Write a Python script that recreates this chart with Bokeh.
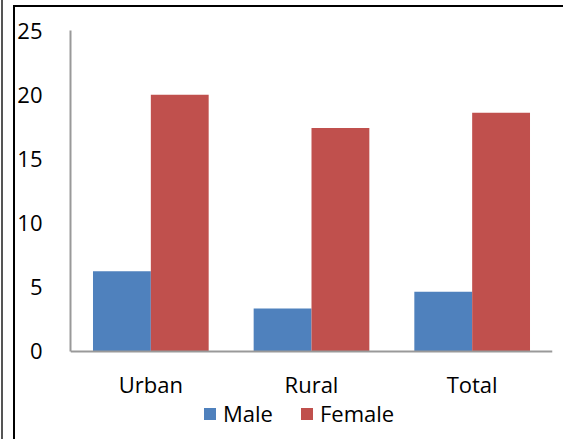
from bokeh.plotting import figure
from bokeh.models import ColumnDataSource, Legend, LegendItem, Range1d, FactorRange, FixedTicker
from bokeh.transform import dodge
from bokeh.embed import file_html
from bokeh.resources import INLINE

categories = ["Urban", "Rural", "Total"]
male = [6.25, 3.35, 4.65]
female = [20.0, 17.4, 18.6]
y_ticks = [0, 5, 10, 15, 20, 25]

BLUE = "#4F81BD"
RED = "#C0504D"
FONT = "Open Sans"

src = ColumnDataSource(data=dict(cat=categories, male=male, female=female))

# frame extends below zero to leave room for the category labels and legend
p = figure(width=563, height=439, x_range=FactorRange(*categories), y_range=Range1d(-6.854, 25),
           output_backend="svg", toolbar_location=None,
           min_border_left=70, min_border_right=11, min_border_top=30, min_border_bottom=0)
p.outline_line_color = None
p.xgrid.visible = False
p.ygrid.visible = False
p.background_fill_alpha = 0
p.border_fill_alpha = 0
p.styles = {
    "background-color": "white",
    "background-image": "linear-gradient(#000,#000), linear-gradient(#000,#000), linear-gradient(#555,#555)",
    "background-size": "2px 434px, 558px 2px, 2px 439px",
    "background-position": "13px 5px, 13px 5px, 1px 0px",
    "background-repeat": "no-repeat",
}

rm = p.vbar(x=dodge("cat", -0.18, range=p.x_range), top="male", width=0.36, source=src,
            fill_color=BLUE, line_color=None)
rf = p.vbar(x=dodge("cat", 0.18, range=p.x_range), top="female", width=0.36, source=src,
            fill_color=RED, line_color=None)

for ax in (p.xaxis[0], p.yaxis[0]):
    ax.axis_line_color = "#999999"
    ax.axis_line_width = 2
    ax.major_tick_line_color = None
    ax.minor_tick_line_color = None
    ax.major_label_text_font = FONT
    ax.major_label_text_font_size = "22px"
    ax.major_label_text_color = "black"

p.yaxis.ticker = FixedTicker(ticks=y_ticks)
p.yaxis.bounds = (0, 25)
p.yaxis.major_label_standoff = 22
p.xaxis.fixed_location = 0
p.xaxis.major_label_standoff = 12

legend = Legend(items=[LegendItem(label="Male", renderers=[rm]),
                       LegendItem(label="Female", renderers=[rf])],
                orientation="horizontal", location=(132, 11),
                glyph_width=15, glyph_height=15, label_standoff=6, spacing=26,
                padding=0, margin=0, border_line_color=None, background_fill_alpha=0,
                label_text_font=FONT, label_text_font_size="22px", label_text_color="black")
p.add_layout(legend, "center")

open("out.html", "w").write(file_html(p, INLINE))
